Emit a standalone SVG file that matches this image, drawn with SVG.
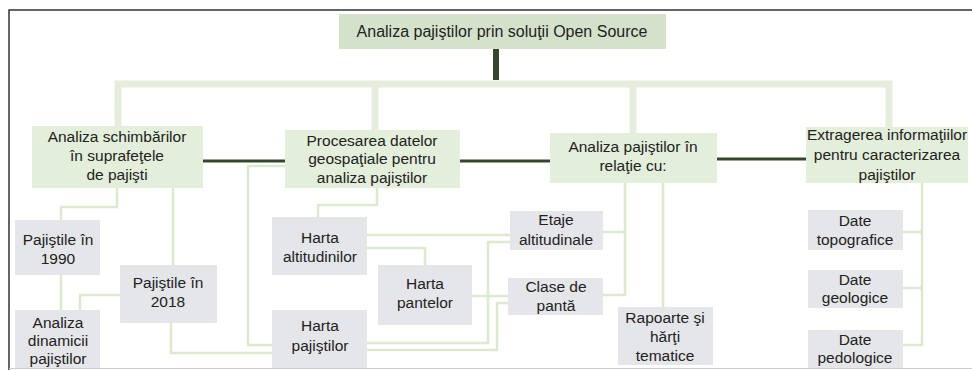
<svg xmlns="http://www.w3.org/2000/svg" width="972" height="370" viewBox="0 0 972 370">
<style>
text{font-family:"Liberation Sans",Arial,sans-serif;font-size:15.5px;fill:#222;text-anchor:middle}
.title{font-size:16px}
.top{fill:#d5e2cb}
.l2{fill:#e3eedb}
.l3{fill:#e5e6e9}
.dark{stroke:#36462d;fill:none}
.br{stroke:#e5eedd;stroke-width:7;fill:none}
.c{stroke:#dbe9cf;stroke-width:2.5;fill:none}
</style>
<rect width="972" height="370" fill="#fff"/>
<g id="frame">
<path d="M972,10 H9 V370" stroke="#333" stroke-width="1.5" fill="none"/>
<path d="M9,368.5 H972" stroke="#ccc" stroke-width="1" fill="none"/>
</g>
<g id="connectors">
<path class="br" d="M118,126 V84 H889 V127"/>
<path class="br" d="M375,84 V130"/>
<path class="br" d="M633,84 V133"/>
<path class="dark" stroke-width="6" d="M496,49 V80"/>
<path class="dark" stroke-width="3" d="M203,161 H285"/>
<path class="dark" stroke-width="3" d="M460,161 H550"/>
<path class="dark" stroke-width="3" d="M717,159 H806"/>
<path class="c" d="M117,188 V207 H61 V220"/>
<path class="c" d="M173,188 V265"/>
<path class="c" d="M61,275 V310"/>
<path class="c" d="M120,295 H80 V310"/>
<path class="c" d="M171,323 V353 H272"/>
<path class="c" d="M285,166 H248 V345 H272"/>
<path class="c" d="M377,188 V205 H318 V217"/>
<path class="c" d="M367,235 H510"/>
<path class="c" d="M367,248 H425 V265"/>
<path class="c" d="M472,296 H508"/>
<path class="c" d="M367,343 H488 V242 H510"/>
<path class="c" d="M367,350 H497 V303 H508"/>
<path class="c" d="M603,232 H625 M603,295 H625 M625,183 V296"/>
<path class="c" d="M663,183 V307"/>
<path class="c" d="M922,183 V346 M903,232 H922 M903,288 H922 M903,345 H922"/>
</g>
<g id="root">
<rect class="top" x="339" y="14" width="327" height="35"/>
<text class="title" x="502" y="37">Analiza pajiştilor prin soluţii Open Source</text>
</g>
<g id="n1">
<rect class="l2" x="32" y="126" width="171" height="62"/>
<text x="117" y="142">Analiza schimbărilor</text>
<text x="117" y="161">în suprafeţele</text>
<text x="117" y="180">de pajişti</text>
</g>
<g id="n2">
<rect class="l2" x="285" y="130" width="175" height="58"/>
<text x="372" y="146">Procesarea datelor</text>
<text x="372" y="164">geospaţiale pentru</text>
<text x="372" y="183">analiza pajiştilor</text>
</g>
<g id="n3">
<rect class="l2" x="550" y="133" width="167" height="50"/>
<text x="633" y="152">Analiza pajiştilor în</text>
<text x="633" y="171">relaţie cu:</text>
</g>
<g id="n4">
<rect class="l2" x="806" y="127" width="162" height="56"/>
<text x="887" y="140">Extragerea informaţiilor</text>
<text x="887" y="160">pentru caracterizarea</text>
<text x="887" y="180">pajiştilor</text>
</g>
<g id="p1990">
<rect class="l3" x="15" y="220" width="85" height="55"/>
<text x="58" y="245">Pajiştile în</text>
<text x="58" y="264">1990</text>
</g>
<g id="dinamica">
<rect class="l3" x="15" y="310" width="85" height="58"/>
<text x="58" y="328">Analiza</text>
<text x="58" y="346">dinamicii</text>
<text x="58" y="364">pajiştilor</text>
</g>
<g id="p2018">
<rect class="l3" x="120" y="265" width="97" height="58"/>
<text x="168" y="288">Pajiştile în</text>
<text x="168" y="307">2018</text>
</g>
<g id="altitudini">
<rect class="l3" x="272" y="217" width="95" height="58"/>
<text x="320" y="243">Harta</text>
<text x="320" y="262">altitudinilor</text>
</g>
<g id="pante">
<rect class="l3" x="378" y="265" width="94" height="60"/>
<text x="425" y="289">Harta</text>
<text x="425" y="308">pantelor</text>
</g>
<g id="pajisti">
<rect class="l3" x="272" y="310" width="95" height="58"/>
<text x="320" y="331">Harta</text>
<text x="320" y="351">pajiştilor</text>
</g>
<g id="etaje">
<rect class="l3" x="510" y="211" width="93" height="39"/>
<text x="556" y="225">Etaje</text>
<text x="556" y="245">altitudinale</text>
</g>
<g id="clase">
<rect class="l3" x="508" y="278" width="95" height="37"/>
<text x="556" y="292">Clase de</text>
<text x="556" y="311">pantă</text>
</g>
<g id="rapoarte">
<rect class="l3" x="618" y="307" width="95" height="58"/>
<text x="665" y="323">Rapoarte şi</text>
<text x="665" y="342">hărţi</text>
<text x="665" y="361">tematice</text>
</g>
<g id="topo">
<rect class="l3" x="808" y="210" width="95" height="40"/>
<text x="855" y="226">Date</text>
<text x="855" y="245">topografice</text>
</g>
<g id="geo">
<rect class="l3" x="808" y="270" width="95" height="38"/>
<text x="855" y="285">Date</text>
<text x="855" y="303">geologice</text>
</g>
<g id="pedo">
<rect class="l3" x="808" y="330" width="95" height="38"/>
<text x="855" y="345">Date</text>
<text x="855" y="363">pedologice</text>
</g>
</svg>
